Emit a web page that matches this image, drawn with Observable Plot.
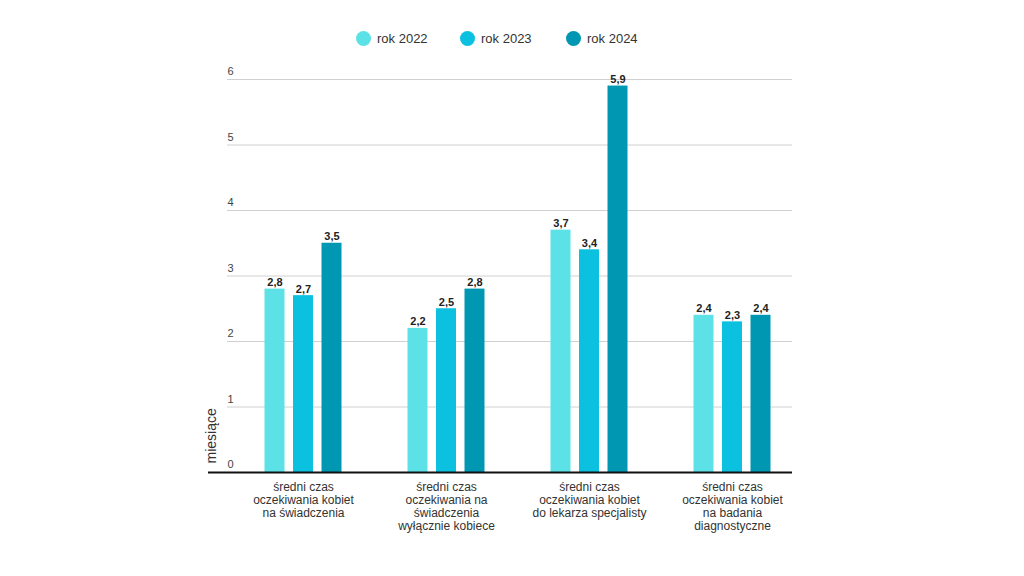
<!DOCTYPE html>
<html>
<head>
<meta charset="utf-8">
<script src="https://cdn.jsdelivr.net/npm/d3@7"></script>
<script src="https://cdn.jsdelivr.net/npm/@observablehq/plot@0.6"></script>
<style>
  html, body { margin: 0; padding: 0; background: #fff; }
  body { width: 1024px; height: 576px; overflow: hidden; font-family: "Liberation Sans", Arial, sans-serif; }
  #legend { position: relative; height: 56px; }
  .item { position: absolute; top: 31px; display: flex; align-items: center; font-size: 13px; color: #333; }
  .dot { width: 15px; height: 15px; border-radius: 50%; margin-right: 6px; }
</style>
</head>
<body>
<div id="legend"></div>
<div id="chart"></div>
<script>
const categories = [
  "średni czas\noczekiwania kobiet\nna świadczenia",
  "średni czas\noczekiwania na\nświadczenia\nwyłącznie kobiece",
  "średni czas\noczekiwania kobiet\ndo lekarza specjalisty",
  "średni czas\noczekiwania kobiet\nna badania\ndiagnostyczne"
];
const years = ["rok 2022", "rok 2023", "rok 2024"];
const values2022 = [2.8, 2.2, 3.7, 2.4];
const values2023 = [2.7, 2.5, 3.4, 2.3];
const values2024 = [3.5, 2.8, 5.9, 2.4];
const yTicks = [0, 1, 2, 3, 4, 5, 6];
const colors = ["#5ce1e6", "#0cc0df", "#0097b2"];
const offsets = [-28.5, 0, 28.5];
const legendLeft = [356, 460, 566];

const series = [values2022, values2023, values2024];
const data = categories.flatMap((c, i) => years.map((y, j) => ({category: c, year: y, value: series[j][i]})));

// legend
const legend = document.getElementById("legend");
years.forEach((y, j) => {
  const it = document.createElement("div");
  it.className = "item";
  it.style.left = legendLeft[j] + "px";
  it.innerHTML = `<span class="dot" style="background:${colors[j]}"></span><span>${y}</span>`;
  legend.appendChild(it);
});

const fmt = v => String(v).replace(".", ",");

const marks = [
  Plot.ruleY(yTicks.filter(d => d > 0), {stroke: "#d0d0d0", strokeWidth: 1, insetLeft: 19}),
  Plot.text(yTicks, {y: d => d, text: d => String(d), frameAnchor: "left", dx: 19, dy: -8, textAnchor: "start", fontSize: 11, fill: "#444"})
];
years.forEach((y, j) => {
  const sub = data.filter(d => d.year === y);
  marks.push(Plot.barY(sub, {x: "category", y: "value", fill: colors[j], dx: offsets[j]}));
  marks.push(Plot.text(sub, {x: "category", y: "value", text: d => fmt(d.value), dx: offsets[j], dy: -3, lineAnchor: "bottom", fontSize: 11, fontWeight: "bold", fill: "#222"}));
});
marks.push(Plot.ruleY([0], {stroke: "#111", strokeWidth: 2}));
marks.push(Plot.text(categories, {x: d => d, frameAnchor: "bottom", dy: 9, lineAnchor: "top", lineHeight: 1.08, fontSize: 12, fill: "#333"}));
marks.push(Plot.text(["miesiące"], {frameAnchor: "bottom-left", rotate: -90, textAnchor: "start", dx: 7, dy: -9, fontSize: 14, fill: "#333"}));

const chart = Plot.plot({
  width: 1024,
  height: 520,
  marginLeft: 208,
  marginRight: 232,
  marginTop: 23,
  marginBottom: 104,
  style: {fontFamily: "Liberation Sans, Arial, sans-serif", background: "#fff"},
  x: {domain: categories, range: [229, 805], paddingInner: 0.861, paddingOuter: 0.4306, axis: null},
  y: {domain: [0, 6], axis: null},
  marks
});
document.getElementById("chart").appendChild(chart);
</script>
</body>
</html>
